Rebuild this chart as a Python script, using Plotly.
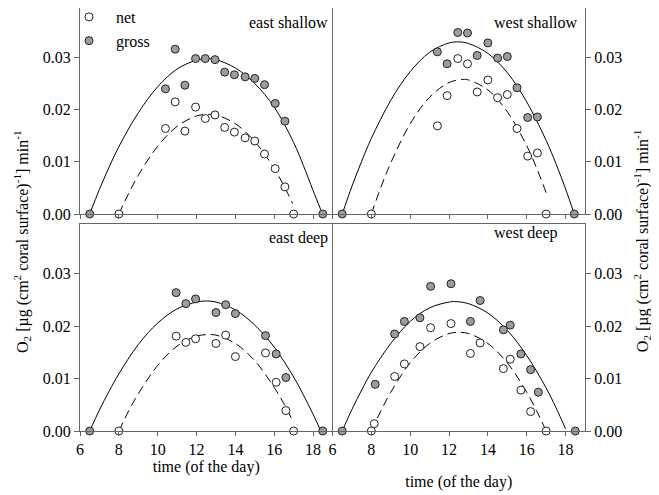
import plotly.graph_objects as go

# ---------------- data ----------------
# east shallow
es_t_gross = [6.5, 10.4, 10.9, 11.4, 11.95, 12.45, 12.95, 13.45, 13.95, 14.5, 15.0, 15.5, 16.05, 16.55, 18.5]
es_gross = [0.0, 0.0240, 0.0316, 0.0247, 0.0298, 0.0298, 0.0296, 0.0272, 0.0267, 0.0263, 0.0260, 0.0248, 0.0212, 0.0178, 0.0]
es_t_net = [8.0, 10.4, 10.9, 11.4, 11.95, 12.45, 12.95, 13.45, 13.95, 14.5, 15.0, 15.5, 16.05, 16.55, 17.0]
es_net = [0.0, 0.0164, 0.0215, 0.0159, 0.0205, 0.0183, 0.0190, 0.0166, 0.0157, 0.0146, 0.0140, 0.0115, 0.0087, 0.0052, 0.0]

# west shallow
ws_t_gross = [6.5, 11.4, 11.9, 12.45, 12.95, 13.45, 14.0, 14.5, 15.0, 15.5, 16.05, 16.55, 18.45]
ws_gross = [0.0, 0.0311, 0.0288, 0.0348, 0.0347, 0.0304, 0.0328, 0.0299, 0.0302, 0.0242, 0.0185, 0.0186, 0.0]
ws_t_net = [8.0, 11.4, 11.9, 12.45, 12.95, 13.45, 14.0, 14.5, 15.0, 15.5, 16.05, 16.55, 17.0]
ws_net = [0.0, 0.0169, 0.0227, 0.0298, 0.0288, 0.0234, 0.0257, 0.0223, 0.0229, 0.0164, 0.0111, 0.0117, 0.0]

# east deep
ed_t_gross = [6.5, 10.95, 11.45, 11.95, 13.0, 13.5, 14.0, 15.55, 16.1, 16.6, 18.5]
ed_gross = [0.0, 0.0264, 0.0243, 0.0252, 0.0226, 0.0241, 0.0224, 0.0182, 0.0147, 0.0102, 0.0]
ed_t_net = [8.0, 10.95, 11.45, 11.95, 13.0, 13.5, 14.0, 15.55, 16.1, 16.6, 17.0]
ed_net = [0.0, 0.0181, 0.0169, 0.0176, 0.0167, 0.0183, 0.0142, 0.0149, 0.0093, 0.0039, 0.0]

# west deep
wd_t_gross = [6.5, 8.2, 9.2, 9.7, 10.5, 11.05, 12.1, 13.1, 13.6, 14.8, 15.15, 15.7, 16.2, 16.6, 18.5]
wd_gross = [0.0, 0.0089, 0.0185, 0.0209, 0.0216, 0.0276, 0.0281, 0.0209, 0.0249, 0.0193, 0.0202, 0.0147, 0.0117, 0.0074, 0.0]
wd_t_net = [8.0, 8.15, 9.2, 9.7, 10.5, 11.05, 12.1, 13.1, 13.6, 14.8, 15.15, 15.7, 16.2, 17.0]
wd_net = [0.0, 0.0014, 0.0104, 0.0128, 0.0161, 0.0197, 0.0205, 0.0148, 0.0168, 0.0119, 0.0137, 0.0078, 0.0037, 0.0]

# fitted curves
es_fit_gross_t = [6.5, 7.0, 7.5, 8.0, 9.0, 10.0, 11.0, 12.0, 12.6, 13.0, 14.0, 15.0, 16.0, 17.0, 17.5, 18.0, 18.4]
es_fit_gross = [0.0, 0.0047, 0.0090, 0.0129, 0.0194, 0.0244, 0.0278, 0.0295, 0.0298, 0.0296, 0.0280, 0.0250, 0.0205, 0.0137, 0.0093, 0.0045, 0.0008]
es_fit_net_t = [8.0, 8.5, 9.0, 10.0, 11.0, 12.0, 12.6, 13.0, 14.0, 15.0, 16.0, 16.5, 16.95]
es_fit_net = [0.0, 0.0039, 0.0074, 0.0130, 0.0168, 0.0188, 0.0191, 0.0190, 0.0173, 0.0139, 0.0087, 0.0054, 0.0020]

ws_fit_gross_t = [6.5, 7.0, 7.5, 8.0, 9.0, 10.0, 11.0, 12.0, 12.5, 13.0, 14.0, 15.0, 16.0, 17.0, 17.5, 18.0, 18.4]
ws_fit_gross = [0.0, 0.0053, 0.0101, 0.0145, 0.0218, 0.0273, 0.0310, 0.0328, 0.0330, 0.0327, 0.0308, 0.0271, 0.0215, 0.0141, 0.0097, 0.0048, 0.0005]
ws_fit_net_t = [8.0, 8.5, 9.0, 10.0, 11.0, 12.0, 12.7, 13.0, 14.0, 15.0, 16.0, 16.5, 17.0]
ws_fit_net = [0.0, 0.0052, 0.0098, 0.0173, 0.0224, 0.0252, 0.0258, 0.0257, 0.0238, 0.0196, 0.0131, 0.0089, 0.0041]

ed_fit_gross_t = [6.5, 7.0, 7.5, 8.0, 9.0, 10.0, 11.0, 12.0, 12.45, 13.0, 14.0, 15.0, 16.0, 17.0, 17.5, 18.0, 18.35]
ed_fit_gross = [0.0, 0.0040, 0.0076, 0.0109, 0.0165, 0.0206, 0.0233, 0.0246, 0.0248, 0.0246, 0.0231, 0.0202, 0.0160, 0.0103, 0.0069, 0.0032, 0.0004]
ed_fit_net_t = [8.0, 8.5, 9.0, 10.0, 11.0, 12.0, 12.6, 13.0, 14.0, 15.0, 16.0, 16.5, 17.0]
ed_fit_net = [0.0, 0.0038, 0.0071, 0.0125, 0.0162, 0.0181, 0.0184, 0.0183, 0.0167, 0.0134, 0.0083, 0.0052, 0.0016]

wd_fit_gross_t = [6.5, 7.0, 7.5, 8.0, 9.0, 10.0, 11.0, 12.0, 12.3, 13.0, 14.0, 15.0, 16.0, 17.0, 17.5, 18.0]
wd_fit_gross = [0.0, 0.0041, 0.0078, 0.0112, 0.0167, 0.0209, 0.0235, 0.0246, 0.0247, 0.0243, 0.0225, 0.0192, 0.0144, 0.0082, 0.0045, 0.0004]
wd_fit_net_t = [8.0, 8.5, 9.0, 10.0, 11.0, 12.0, 12.5, 13.0, 14.0, 15.0, 16.0, 16.5, 16.95]
wd_fit_net = [0.0, 0.0039, 0.0074, 0.0130, 0.0167, 0.0186, 0.0188, 0.0186, 0.0167, 0.0130, 0.0074, 0.0039, 0.0004]

panel_labels = ["east shallow", "west shallow", "east deep", "west deep"]
x_ticks = [6, 8, 10, 12, 14, 16, 18]
y_ticks = [0.0, 0.01, 0.02, 0.03]

# ---------------- figure ----------------
FONT = "Liberation Serif"
AX = "#666666"
GRAY = "#9c9c9c"

fig = go.Figure()

panels = [
    ("x", "y", es_t_gross, es_gross, es_t_net, es_net, es_fit_gross_t, es_fit_gross, es_fit_net_t, es_fit_net),
    ("x2", "y2", ws_t_gross, ws_gross, ws_t_net, ws_net, ws_fit_gross_t, ws_fit_gross, ws_fit_net_t, ws_fit_net),
    ("x3", "y3", ed_t_gross, ed_gross, ed_t_net, ed_net, ed_fit_gross_t, ed_fit_gross, ed_fit_net_t, ed_fit_net),
    ("x4", "y4", wd_t_gross, wd_gross, wd_t_net, wd_net, wd_fit_gross_t, wd_fit_gross, wd_fit_net_t, wd_fit_net),
]

for i, (xa, ya, tg, g, tn, n, ftg, fg, ftn, fn) in enumerate(panels):
    fig.add_trace(go.Scatter(x=ftg, y=fg, mode="lines", xaxis=xa, yaxis=ya,
                             line=dict(color="black", width=1, shape="spline"),
                             showlegend=False, hoverinfo="skip"))
    fig.add_trace(go.Scatter(x=ftn, y=fn, mode="lines", xaxis=xa, yaxis=ya,
                             line=dict(color="black", width=1, dash="9px,5px", shape="spline"),
                             showlegend=False, hoverinfo="skip"))
    fig.add_trace(go.Scatter(x=tn, y=n, mode="markers", xaxis=xa, yaxis=ya, name="net",
                             marker=dict(symbol="circle", size=8, color="white",
                                         line=dict(color="#222222", width=1)),
                             cliponaxis=False, showlegend=(i == 0)))
    fig.add_trace(go.Scatter(x=tg, y=g, mode="markers", xaxis=xa, yaxis=ya, name="gross",
                             marker=dict(symbol="circle", size=8, color=GRAY,
                                         line=dict(color="#222222", width=1)),
                             cliponaxis=False, showlegend=(i == 0)))

# page has an 8px body margin; the layout is shifted to compensate
top_dom = [0.513, 1.0]
bot_dom = [0.0, 0.4894]
left_dom = [0.0, 0.5]
right_dom = [0.5, 1.0]

xcommon = dict(range=[6, 19], tickvals=x_ticks, ticks="outside", ticklen=4, tickcolor=AX,
               showline=True, linecolor=AX, linewidth=1, mirror=True, showgrid=False,
               zeroline=False, tickfont=dict(family=FONT, size=16, color="black"))
ycommon = dict(range=[0, 0.0395], tickvals=y_ticks, tickformat=".2f", ticks="outside",
               ticklen=5, tickcolor=AX, showline=True, linecolor=AX, linewidth=1,
               showgrid=False, zeroline=False,
               tickfont=dict(family=FONT, size=16, color="black"))

xtitle = dict(text="time (of the day)", font=dict(family=FONT, size=16, color="black"))

fig.update_layout(
    width=651, height=487,
    margin=dict(l=72, r=74, t=0, b=64, autoexpand=False),
    paper_bgcolor="white", plot_bgcolor="white",
    font=dict(family=FONT, size=16, color="black"),
    xaxis=dict(domain=left_dom, anchor="y", showticklabels=False, **xcommon),
    xaxis2=dict(domain=right_dom, anchor="y2", showticklabels=False, **xcommon),
    xaxis3=dict(domain=left_dom, anchor="y3", title=dict(standoff=2, **xtitle), **xcommon),
    xaxis4=dict(domain=right_dom, anchor="y4", title=dict(standoff=18, **xtitle), **xcommon),
    yaxis=dict(domain=top_dom, anchor="x", side="left", mirror=False, **ycommon),
    yaxis2=dict(domain=top_dom, anchor="x2", side="right", mirror=True, **ycommon),
    yaxis3=dict(domain=bot_dom, anchor="x3", side="left", mirror=False, **ycommon),
    yaxis4=dict(domain=bot_dom, anchor="x4", side="right", mirror=True, **ycommon),
    legend=dict(x=-0.0356, y=1.019, xanchor="left", yanchor="top", bgcolor="rgba(0,0,0,0)",
                font=dict(family=FONT, size=16), tracegroupgap=0, itemwidth=44),
    showlegend=True,
)

ytitle = "O<sub>2</sub> [µg (cm<sup>2</sup> coral surface)<sup>-1</sup>] min<sup>-1</sup>"
fig.add_annotation(text=ytitle, xref="paper", yref="paper", x=-0.115, y=0.449,
                   xanchor="center", yanchor="middle", textangle=-90, showarrow=False,
                   font=dict(family=FONT, size=16, color="black"))
fig.add_annotation(text=ytitle, xref="paper", yref="paper", x=1.113, y=0.449,
                   xanchor="center", yanchor="middle", textangle=-90, showarrow=False,
                   font=dict(family=FONT, size=16, color="black"))

label_pos = [("x domain", "y domain", 0.99, 0.932),
             ("x2 domain", "y2 domain", 0.98, 0.932),
             ("x3 domain", "y3 domain", 0.99, 0.932),
             ("x4 domain", "y4 domain", 0.90, 0.957)]
for lbl, (xr, yr, xx, yy) in zip(panel_labels, label_pos):
    fig.add_annotation(text=lbl, xref=xr, yref=yr, x=xx, y=yy, xanchor="right",
                       yanchor="middle", showarrow=False,
                       font=dict(family=FONT, size=16, color="black"))

fig.write_html("out.html")
